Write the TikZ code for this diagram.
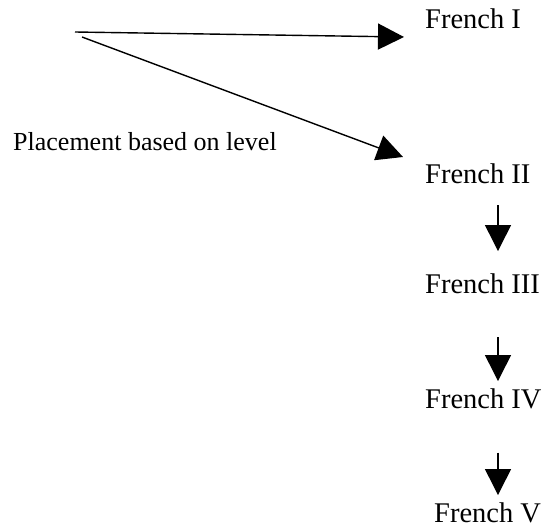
\documentclass[tikz,border=0pt]{standalone}
\usepackage{fontspec}
\setmainfont{Liberation Serif}
\usetikzlibrary{arrows.meta, positioning}

\begin{document}
\begin{tikzpicture}[
        x=1pt, y=-1pt,
        course/.style = {anchor=base west, inner sep=0pt, font=\fontsize{28.5}{30}\selectfont},
        note/.style = {anchor=base west, inner sep=0pt, font=\fontsize{26}{28}\selectfont},
        arrow/.style = {line width=1.4pt, -{Triangle[length=26pt, width=26pt]}}
    ]
        \useasboundingbox (0,0) rectangle (543,527);

        % Nodes
        \node [course] (fr1) at (425,29) {French I};
        \node [course] (fr2) at (425,183) {French II};
        \node [course] (fr3) at (425,293) {French III};
        \node [course] (fr4) at (425,408) {French IV};
        \node [course] (fr5) at (434,522) {French V};
        \node [note] (place) at (13,150) {Placement based on level};

        % Connector ends
        \coordinate (start1) at (75,32);
        \coordinate (start2) at (82,37);
        \coordinate (tip1) at (404,37);
        \coordinate (tip2) at (403,157);
        \coordinate (col) at (498,0);

        % Connectors
        \draw [arrow] (start1) -- (tip1);
        \draw [arrow] (start2) -- (tip2);
        \draw [arrow] ([yshift=-22pt]fr2.south -| col) -- ([yshift=22pt]fr3.north -| col);
        \draw [arrow] ([yshift=-44pt]fr3.south -| col) -- ([yshift=7pt]fr4.north -| col);
        \draw [arrow] ([yshift=-44pt]fr4.south -| col) -- ([yshift=7pt]fr5.north -| col);
    \end{tikzpicture}
\end{document}
